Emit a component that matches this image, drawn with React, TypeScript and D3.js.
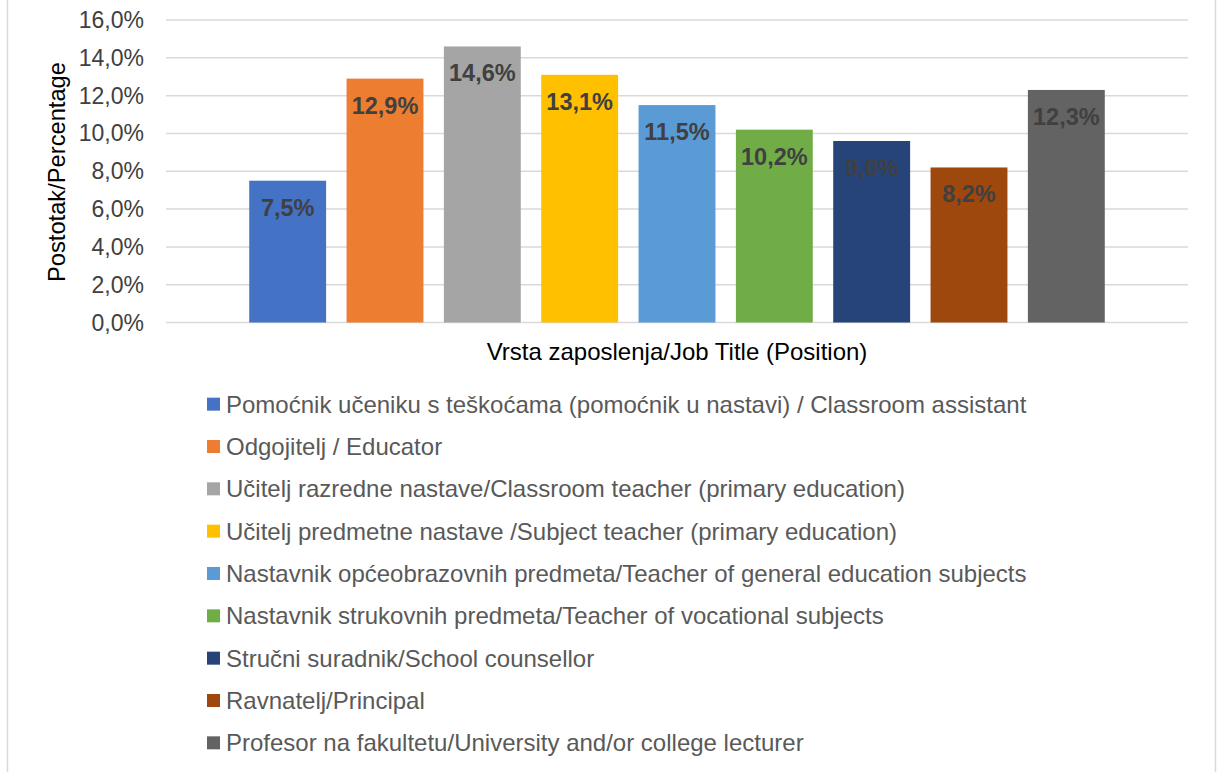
import React, { useEffect } from 'react';
import * as d3 from 'd3';

// --- Data ---
const categories = [
  'Pomoćnik učeniku s teškoćama (pomoćnik u nastavi) / Classroom assistant',
  'Odgojitelj / Educator',
  'Učitelj razredne nastave/Classroom teacher (primary education)',
  'Učitelj predmetne nastave /Subject teacher (primary education)',
  'Nastavnik općeobrazovnih predmeta/Teacher of general education subjects',
  'Nastavnik strukovnih predmeta/Teacher of vocational subjects',
  'Stručni suradnik/School counsellor',
  'Ravnatelj/Principal',
  'Profesor na fakultetu/University and/or college lecturer',
];
const values = [7.5, 12.9, 14.6, 13.1, 11.5, 10.2, 9.6, 8.2, 12.3];
const colors = ['#4472C4', '#ED7D31', '#A5A5A5', '#FFC000', '#5B9BD5', '#70AD47', '#264478', '#9E480E', '#636363'];
const yTicks = [0, 2, 4, 6, 8, 10, 12, 14, 16];

const W = 1217;
const H = 772;
const FONT = '"Liberation Sans", Arial, sans-serif';

const fmt = (v: number) => v.toFixed(1).replace('.', ',') + '%';

export default function App() {
  useEffect(() => {
    document.body.style.margin = '0';
  }, []);

  // --- Scales ---
  const plotLeft = 166;
  const plotRight = 1188;
  const yScale = d3.scaleLinear().domain([0, 16]).range([322.5, 20]);
  const xScale = d3
    .scaleBand<string>()
    .domain(categories)
    .range([239, 1115])
    .paddingInner(0.21)
    .paddingOuter(0.105);

  const legendY = d3.scaleBand<string>().domain(categories).range([383, 764]);

  return (
    <svg width={W} height={H} style={{ position: 'absolute', left: 0, top: 0, background: '#fff' }} fontFamily={FONT}>
      {/* frame edges */}
      <line x1={7.5} x2={7.5} y1={0} y2={H} stroke="#d9d9d9" strokeWidth={1.5} />
      <line x1={1215.5} x2={1215.5} y1={0} y2={H} stroke="#d9d9d9" strokeWidth={1.5} />

      {/* gridlines + tick labels */}
      {yTicks.map((t) => (
        <g key={t}>
          <line x1={plotLeft} x2={plotRight} y1={yScale(t)} y2={yScale(t)} stroke="#d9d9d9" strokeWidth={1.5} />
          <text x={144} y={yScale(t) + 8} textAnchor="end" fontSize={23} fill="#404040">
            {fmt(t)}
          </text>
        </g>
      ))}

      {/* bars */}
      {categories.map((c, i) => (
        <rect
          key={c}
          x={xScale(c)}
          y={yScale(values[i])}
          width={xScale.bandwidth()}
          height={yScale(0) - yScale(values[i])}
          fill={colors[i]}
        />
      ))}

      {/* data labels */}
      {categories.map((c, i) => (
        <text
          key={c}
          x={(xScale(c) as number) + xScale.bandwidth() / 2}
          y={yScale(values[i]) + 35}
          textAnchor="middle"
          fontSize={23.5}
          fontWeight="bold"
          fill="#404040"
        >
          {fmt(values[i])}
        </text>
      ))}

      {/* axis titles */}
      <text
        transform={`translate(65,172) rotate(-90)`}
        textAnchor="middle"
        fontSize={23.7}
        fill="#000"
      >
        Postotak/Percentage
      </text>
      <text x={677} y={360} textAnchor="middle" fontSize={24} fill="#000">
        Vrsta zaposlenja/Job Title (Position)
      </text>

      {/* legend */}
      {categories.map((c, i) => {
        const cy = (legendY(c) as number) + legendY.bandwidth() / 2;
        return (
          <g key={c}>
            <rect x={207} y={cy - 6.5} width={13} height={13} fill={colors[i]} />
            <text x={226} y={cy + 8.5} fontSize={24} fill="#595959">
              {c}
            </text>
          </g>
        );
      })}
    </svg>
  );
}
